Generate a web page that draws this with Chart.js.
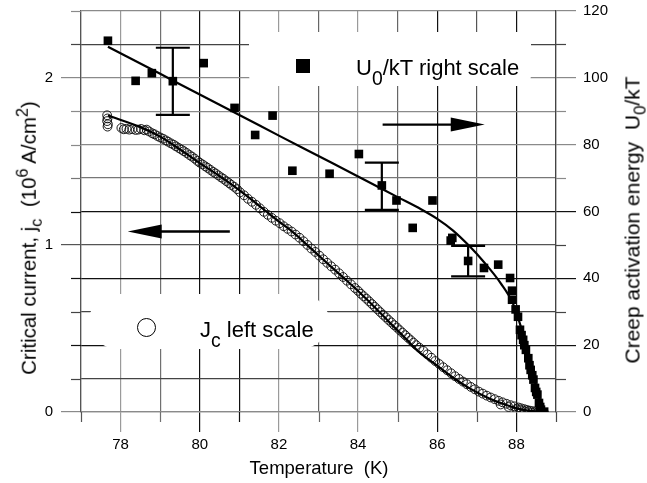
<!DOCTYPE html>
<html>
<head>
<meta charset="utf-8">
<script src="https://cdn.jsdelivr.net/npm/chart.js@4.4.0/dist/chart.umd.min.js"></script>
<style>
html,body{margin:0;padding:0;background:#fff;}
#wrap{position:relative;width:647px;height:483px;overflow:hidden;font-family:"Liberation Sans",Arial,Helvetica,sans-serif;color:#000;}
#c{position:absolute;left:0;top:0;}
.t{position:absolute;white-space:nowrap;line-height:1;}
.t sub,.t sup{line-height:0;position:relative;vertical-align:baseline;}
.title{font-size:18px;}
.title sub{font-size:80%;top:0.35em;}
.title sup{font-size:80%;top:-0.5em;}
.rot{transform:translate(-50%,-50%) rotate(-90deg);}
.ctr{transform:translate(-50%,-50%);}
.leg{font-size:22px;}
.leg sub{font-size:88%;top:0.5em;}
#sq{position:absolute;left:296px;top:59px;width:14px;height:14px;background:#000;}
#ci{position:absolute;left:137px;top:318px;width:17px;height:17px;border:1.3px solid #000;border-radius:50%;}
</style>
</head>
<body>
<div id="wrap">
<canvas id="c" width="647" height="483"></canvas>
<div class="t title ctr" style="left:319px;top:468px;font-size:18.5px;">Temperature&nbsp; (K)</div>
<div class="t title rot" style="left:29px;top:238px;font-size:20.5px;">Critical current, j<sub>c</sub>&nbsp; (10<sup>6</sup> A/cm<sup>2</sup>)</div>
<div class="t title rot" style="left:632px;top:220px;font-size:21px;">Creep activation energy&nbsp; U<sub>0</sub>/kT</div>
<div id="sq"></div>
<div class="t leg" style="left:356px;top:57px;">U<sub>0</sub>/kT right scale</div>
<div id="ci"></div>
<div class="t leg" style="left:200px;top:319px;">J<sub>c</sub> left scale</div>
</div>
<script>
// ---------- data ----------
// U0/kT (right scale), filled squares
const u0T   = [77.68,78.38,78.79,79.32,80.10,80.88,81.40,81.84,82.34,83.28,84.02,84.60,84.97,85.38,85.88,86.38,86.34,86.78,87.18,87.54,87.84,87.89,87.89,87.98,88.04,88.09,88.13,88.17,88.20,88.24,88.30,88.33,88.36,88.40,88.43,88.47,88.50,88.53,88.57,88.60,88.62,88.70];
const u0Val = [111.1,99.1,101.4,99.0,104.4,91.0,82.9,88.7,72.2,71.3,77.2,67.8,63.3,55.1,63.3,52.1,51.3,45.2,43.1,44.1,40.1,36.3,33.6,30.7,28.5,24.6,23.0,21.6,20.0,18.6,16.1,14.0,12.6,11.0,9.7,7.2,6.0,5.2,2.7,1.5,0.7,0.1];
// error bars on U0/kT
const errT    = [79.32,84.60,86.78];
const errLow  = [88.9,60.5,40.6];
const errHigh = [109.0,74.6,49.7];
// U0/kT fit curve
const u0FitT   = [77.68,79.0,80.0,81.0,82.0,83.0,84.0,85.0,85.6,86.0,86.4,86.8,87.2,87.6,87.9,88.1,88.3,88.5,88.64];
const u0FitVal = [109.3,101.2,95.0,88.9,82.7,76.6,70.5,64.3,60.6,57.8,54.3,49.8,44.6,38.6,32.8,26.0,17.0,7.5,0.3];
// Jc (left scale), open circles
const jcT = [77.66,77.67,77.66,77.68,77.67,
 78.02,78.08,78.15,78.22,78.30,78.38,78.45,78.52,78.60,78.66,78.72,78.80,78.86,
 78.93,79.00,79.07,79.14,79.20,79.27,79.34,79.40,79.47,79.54,79.60,79.67,79.74,79.80,79.87,79.94,80.00,80.07,80.14,80.20,80.27,80.34,80.40,80.47,80.54,80.60,80.67,80.74,80.80,80.87,80.94,
 81.02,81.12,81.22,81.32,81.42,81.52,81.62,81.72,81.82,81.92,82.02,82.12,82.22,82.32,82.42,82.52,82.62,82.72,82.82,82.92,83.02,83.12,83.22,83.32,83.42,83.52,83.62,83.72,83.82,83.92,
 84.00,84.07,84.14,84.21,84.28,84.35,84.42,84.49,84.56,84.63,84.70,84.77,84.84,84.91,84.98,85.05,85.12,85.19,85.26,85.33,85.40,85.47,85.55,
 85.65,85.75,85.85,85.95,86.05,86.15,86.25,86.35,86.45,86.55,86.65,86.75,86.85,86.95,87.05,87.15,87.25,87.35,87.45,87.55,87.65,87.75,87.85,87.95,88.05,88.12,88.20,88.27,88.34,88.41,88.48,88.55,88.60,88.65,88.70,
 87.60,87.80,88.00,88.10,88.20,88.30,88.40,88.50];
const jcVal = [1.776,1.757,1.741,1.722,1.708,
 1.700,1.692,1.695,1.690,1.693,1.688,1.690,1.694,1.686,1.690,1.679,1.668,1.662,
 1.652,1.643,1.636,1.626,1.618,1.608,1.600,1.590,1.580,1.570,1.561,1.550,1.538,1.529,1.517,1.503,1.492,1.482,1.470,1.461,1.449,1.437,1.428,1.416,1.404,1.395,1.382,1.370,1.359,1.348,1.334,
 1.315,1.297,1.276,1.258,1.240,1.219,1.198,1.180,1.162,1.145,1.130,1.112,1.096,1.080,1.062,1.043,1.022,1.000,0.978,0.958,0.936,0.914,0.893,0.872,0.852,0.830,0.808,0.786,0.764,0.742,
 0.725,0.708,0.693,0.678,0.662,0.646,0.630,0.614,0.598,0.582,0.567,0.551,0.536,0.520,0.506,0.490,0.475,0.460,0.445,0.430,0.415,0.400,0.385,
 0.366,0.345,0.325,0.305,0.287,0.268,0.250,0.232,0.214,0.198,0.182,0.166,0.150,0.136,0.122,0.110,0.098,0.087,0.077,0.067,0.058,0.049,0.041,0.034,0.027,0.022,0.017,0.012,0.008,0.005,0.003,0.001,0.000,-0.003,-0.005,
 0.045,0.030,0.018,0.012,0.005,0.004,-0.004,-0.008];
// Jc fit curve
const jcFitT   = [77.68,78.5,79.0,79.5,80.0,80.5,80.93,81.3,81.68,82.0,82.36,82.78,83.2,83.6,84.04,84.47,84.8,85.22,85.56,85.98,86.4,86.83,87.33,87.58,88.0,88.3,88.68];
const jcFitVal = [1.775,1.705,1.648,1.572,1.49,1.412,1.34,1.272,1.20,1.14,1.075,0.985,0.895,0.81,0.715,0.615,0.535,0.435,0.355,0.28,0.205,0.14,0.08,0.056,0.022,0.008,0.0];
// tick labels
const xLabels     = [78,80,82,84,86,88];
const leftLabels  = [0,1,2];
const rightLabels = [0,20,40,60,80,100,120];

// ---------- styling helpers ----------
const xGridCol = {77:'#555',78:'#9a9a9a',79:'#707070',80:'#111',81:'#111',82:'#9a9a9a',83:'#666',84:'#9a9a9a',85:'#666',86:'#111',87:'#555',88:'#111',89:'#444'};
const yGridCol = {0:'#8a8a8a',2:'#444',4:'#111',6:'#444',8:'#111',10:'#555',12:'#111',14:'#777',16:'#8a8a8a',18:'#8a8a8a',20:'#8a8a8a',22:'#444',24:'#8a8a8a'};
const y1TickCol = {0:'#8a8a8a',10:'#444',20:'#111',30:'#444',40:'#111',50:'#444',60:'#111',70:'#8a8a8a',80:'#8a8a8a',90:'#8a8a8a',100:'#8a8a8a',110:'#444',120:'#8a8a8a'};
const yKey = v => Math.round(v*10);

Chart.defaults.font.family = '"Liberation Sans", Arial, Helvetica, sans-serif';
Chart.defaults.color = '#000';

function pts(xs, ys){ return xs.map((x,i)=>({x:x, y:ys[i]})); }

function roundRect(ctx,x,y,w,h,r){
  ctx.beginPath();
  ctx.moveTo(x+r,y);
  ctx.lineTo(x+w-r,y); ctx.arcTo(x+w,y,x+w,y+r,r);
  ctx.lineTo(x+w,y+h-r); ctx.arcTo(x+w,y+h,x+w-r,y+h,r);
  ctx.lineTo(x+r,y+h); ctx.arcTo(x,y+h,x,y+h-r,r);
  ctx.lineTo(x,y+r); ctx.arcTo(x,y,x+r,y,r);
  ctx.closePath();
}

const decor = {
  id:'decor',
  beforeDatasetsDraw(chart){
    const ctx = chart.ctx;
    ctx.save();
    ctx.fillStyle = '#fff';
    roundRect(ctx,249,32,282,54,10); ctx.fill();
    roundRect(ctx,88,294,242,55,30); ctx.fill();
    ctx.restore();
  },
  afterDatasetsDraw(chart){
    const ctx = chart.ctx, sx = chart.scales.x, sy = chart.scales.y, sy1 = chart.scales.y1;
    ctx.save();
    ctx.strokeStyle = '#000'; ctx.fillStyle = '#000';
    // error bars
    ctx.lineWidth = 2.2;
    errT.forEach((t,i)=>{
      const px = sx.getPixelForValue(t), pt = sy1.getPixelForValue(errHigh[i]), pb = sy1.getPixelForValue(errLow[i]);
      ctx.beginPath();
      ctx.moveTo(px,pt); ctx.lineTo(px,pb);
      ctx.moveTo(px-17,pt); ctx.lineTo(px+17,pt);
      ctx.moveTo(px-17,pb); ctx.lineTo(px+17,pb);
      ctx.stroke();
    });
    // arrows
    function arrow(x0,x1,y){
      const dir = Math.sign(x1-x0), head = 34, hh = 7;
      ctx.lineWidth = 2.4;
      ctx.beginPath(); ctx.moveTo(x0,y); ctx.lineTo(x1-dir*head+dir*2,y); ctx.stroke();
      ctx.beginPath(); ctx.moveTo(x1,y); ctx.lineTo(x1-dir*head,y-hh); ctx.lineTo(x1-dir*head,y+hh); ctx.closePath(); ctx.fill();
    }
    arrow(sx.getPixelForValue(84.62), sx.getPixelForValue(87.2), sy1.getPixelForValue(86));
    arrow(sx.getPixelForValue(80.76), sx.getPixelForValue(78.18), sy.getPixelForValue(1.08));
    ctx.restore();
  },
  afterDraw(chart){
    // minor tick marks (10 px)
    const ctx = chart.ctx, sx = chart.scales.x, sy = chart.scales.y, sy1 = chart.scales.y1, a = chart.chartArea;
    ctx.save();
    ctx.lineWidth = 1.2;
    sx.ticks.forEach(t=>{
      if (xLabels.includes(t.value)) return;
      const px = Math.round(sx.getPixelForValue(t.value))+0.5;
      ctx.strokeStyle = xGridCol[t.value] || '#555';
      ctx.beginPath(); ctx.moveTo(px,a.bottom); ctx.lineTo(px,a.bottom+10); ctx.stroke();
    });
    sy.ticks.forEach(t=>{
      const k = yKey(t.value);
      if (k % 10 === 0) return;
      const py = Math.round(sy.getPixelForValue(t.value))+0.5;
      ctx.strokeStyle = yGridCol[k] || '#555';
      ctx.beginPath(); ctx.moveTo(a.left-10,py); ctx.lineTo(a.left,py); ctx.stroke();
    });
    sy1.ticks.forEach(t=>{
      const v = Math.round(t.value);
      if (v % 20 === 0) return;
      const py = Math.round(sy1.getPixelForValue(v))+0.5;
      ctx.strokeStyle = y1TickCol[v] || '#555';
      ctx.beginPath(); ctx.moveTo(a.right,py); ctx.lineTo(a.right+10,py); ctx.stroke();
    });
    ctx.restore();
  }
};

new Chart(document.getElementById('c'), {
  type:'scatter',
  data:{
    datasets:[
      {label:'Jc fit', data:pts(jcFitT,jcFitVal), yAxisID:'y', showLine:true, borderColor:'#000', borderWidth:2.2, pointRadius:0, cubicInterpolationMode:'monotone', order:0},
      {label:'U0/kT fit', data:pts(u0FitT,u0FitVal), yAxisID:'y1', showLine:true, borderColor:'#000', borderWidth:2.2, pointRadius:0, cubicInterpolationMode:'monotone', order:1},
      {label:'U0/kT right scale', data:pts(u0T,u0Val), yAxisID:'y1', pointStyle:'rect', pointRadius:6.1, backgroundColor:'#000', borderColor:'#000', borderWidth:0, order:2},
      {label:'Jc left scale', data:pts(jcT,jcVal), yAxisID:'y', pointStyle:'circle', pointRadius:4.4, backgroundColor:'rgba(0,0,0,0)', borderColor:'#111', borderWidth:0.95, order:3}
    ]
  },
  options:{
    responsive:false, animation:false, devicePixelRatio:1,
    layout:{padding:{top:11,left:0,right:0,bottom:0}},
    plugins:{legend:{display:false}, tooltip:{enabled:false}},
    scales:{
      x:{
        type:'linear', min:77, max:89,
        afterFit(s){ s.height = 71; },
        ticks:{stepSize:1, autoSkip:false, maxRotation:0, padding:4, font:{size:15}, color:'#000',
          callback:v => xLabels.includes(v) ? String(v) : ''},
        grid:{lineWidth:1.2, tickLength:20,
          color:c => xGridCol[c.tick ? c.tick.value : 77] || '#555',
          tickColor:c => (c.tick && xLabels.includes(c.tick.value)) ? (xGridCol[c.tick.value]||'#555') : 'rgba(0,0,0,0)'},
        border:{display:true, color:'#8a8a8a', width:1.2},
        title:{display:false}
      },
      y:{
        type:'linear', position:'left', min:0, max:2.4,
        afterFit(s){ s.width = 81; },
        ticks:{stepSize:0.2, autoSkip:false, padding:8, font:{size:15, lineHeight:0.3}, color:'#000',
          callback:v => { const r = Math.round(v*10)/10; return leftLabels.includes(r) ? String(r) : ''; }},
        grid:{lineWidth:1.2, tickLength:20,
          color:c => yGridCol[c.tick ? yKey(c.tick.value) : 0] || '#555',
          tickColor:c => (c.tick && yKey(c.tick.value)%10===0) ? (yGridCol[yKey(c.tick.value)]||'#555') : 'rgba(0,0,0,0)'},
        border:{display:true, color:'#555', width:1.2}
      },
      y1:{
        type:'linear', position:'right', min:0, max:120,
        afterFit(s){ s.width = 91; },
        ticks:{stepSize:10, autoSkip:false, padding:7, font:{size:15, lineHeight:0.3}, color:'#000',
          callback:v => rightLabels.includes(Math.round(v)) ? String(Math.round(v)) : ''},
        grid:{drawOnChartArea:false, lineWidth:1.2, tickLength:20,
          tickColor:c => (c.tick && Math.round(c.tick.value)%20===0) ? (y1TickCol[Math.round(c.tick.value)]||'#555') : 'rgba(0,0,0,0)'},
        border:{display:true, color:'#444', width:1.2}
      }
    }
  },
  plugins:[decor]
});
</script>
</body>
</html>
